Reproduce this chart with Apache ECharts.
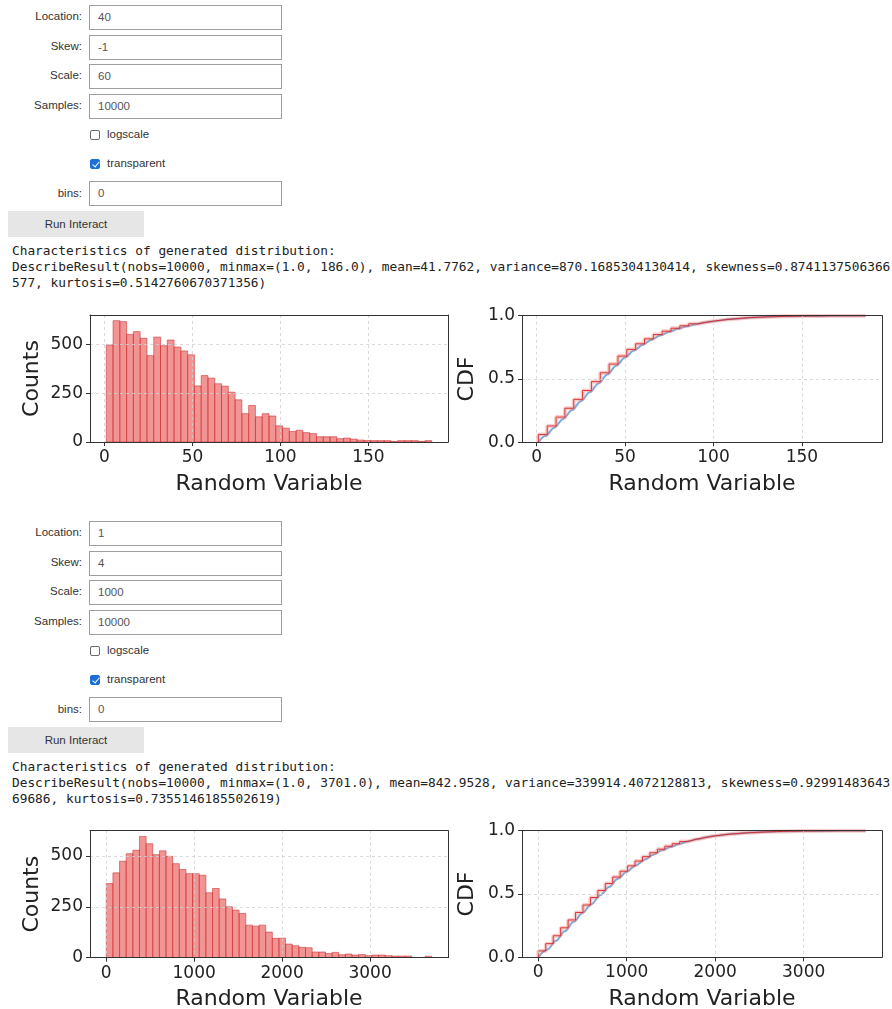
<!DOCTYPE html>
<html>
<head>
<meta charset="utf-8">
<script src="https://cdn.jsdelivr.net/npm/echarts@6/dist/echarts.min.js"></script>
<style>
  html, body { margin:0; padding:0; background:#fff; }
  body { width:892px; height:1009px; position:relative; overflow:hidden; font-family:"Liberation Sans", Arial, sans-serif; }
  .lbl { position:absolute; left:0; width:82px; text-align:right; font-size:11.5px; color:#333; }
  .box { position:absolute; left:89px; width:193px; height:25px; box-sizing:border-box; border:1px solid #9e9e9e; font-size:11.5px; color:#555; line-height:23px; padding-left:8px; background:#fff; }
  .chk { position:absolute; left:90px; width:10px; height:10px; box-sizing:border-box; border:1px solid #6b6b6b; border-radius:2px; background:#fff; }
  .chk.on { background:#1b6fd6; border-color:#1b6fd6; }
  .chk.on::after { content:""; position:absolute; left:2.5px; top:0px; width:3px; height:6px; border:solid #fff; border-width:0 1.5px 1.5px 0; transform:rotate(40deg); }
  .cbl { position:absolute; left:107px; font-size:11.5px; color:#333; }
  .btn { position:absolute; left:8px; width:136px; height:26px; background:#e6e6e6; color:#333; font-size:11.5px; line-height:26px; text-align:center; }
  .out { position:absolute; left:12px; font-family:"DejaVu Sans Mono", monospace; font-size:12.8px; color:#222; line-height:16px; white-space:pre; }
  .chart { position:absolute; left:0; width:892px; }
</style>
</head>
<body>
<div id="form1"></div>
<div id="form2"></div>
<div id="row1" class="chart" style="top:300px;height:210px;"></div>
<div id="row2" class="chart" style="top:818px;height:191px;"></div>
<script>
// ---------------- form texts ----------------
const formLabels = ["Location:", "Skew:", "Scale:", "Samples:"];
const form1Values = ["40", "-1", "60", "10000"];
const form2Values = ["1", "4", "1000", "10000"];
const checkLabels = ["logscale", "transparent"];
const checkStates = [false, true];
const binsLabel = "bins:";
const binsValue = "0";
const buttonText = "Run Interact";
const stats1Lines = [
  "Characteristics of generated distribution:",
  "DescribeResult(nobs=10000, minmax=(1.0, 186.0), mean=41.7762, variance=870.1685304130414, skewness=0.8741137506366",
  "577, kurtosis=0.5142760670371356)"
];
const stats2Lines = [
  "Characteristics of generated distribution:",
  "DescribeResult(nobs=10000, minmax=(1.0, 3701.0), mean=842.9528, variance=339914.4072128813, skewness=0.92991483643",
  "69686, kurtosis=0.7355146185502619)"
];

// ---------------- chart data ----------------
// histogram 1: range [1, 186], 48 equal bins
const hist1Range = [1, 186];
const hist1Counts = [497,621,616,551,565,531,442,537,493,522,486,466,446,287,340,327,298,286,255,216,145,187,129,145,133,83,71,54,60,48,43,27,27,27,17,20,15,10,8,7,7,7,3,7,7,7,3,7];
// histogram 2: range [1, 3701], 49 equal bins
const hist2Range = [1, 3701];
const hist2Counts = [364,417,474,511,528,596,560,506,525,498,462,433,413,413,405,319,340,289,250,234,217,160,155,160,126,95,96,67,59,51,49,28,28,21,26,15,18,13,16,10,13,13,10,8,8,8,0,0,7];

// cumulative step histograms (value at the end of each equal bin)
const cdf1Range = [1, 186];
const cdf1Values = [0.062,0.129,0.199,0.269,0.339,0.409,0.479,0.549,0.618,0.681,0.734,0.778,0.817,0.851,0.878,0.901,0.92,0.936,0.948,0.959,0.967,0.974,0.98,0.985,0.988,0.991,0.993,0.995,0.996,0.997,0.998,0.9985,0.999,0.9993,0.9996,0.9998,1.0];
const cdf2Range = [1, 3701];
const cdf2Values = [0.05,0.108,0.17,0.233,0.295,0.354,0.413,0.472,0.528,0.583,0.634,0.68,0.722,0.76,0.795,0.826,0.854,0.877,0.897,0.914,0.929,0.941,0.952,0.961,0.968,0.974,0.979,0.983,0.986,0.989,0.991,0.993,0.9945,0.996,0.9968,0.9975,0.998,0.9985,0.999,0.9993,0.9995,0.9997,0.9998,1.0];

// theoretical CDF curves
const fit1X = [1,5,10,15,20,25,30,35,40,45,50,55,60,65,70,75,80,85,90,95,100,110,120,130,140,150,160,170,186];
const fit1Y = [0,0.05,0.115,0.185,0.255,0.325,0.395,0.465,0.535,0.605,0.67,0.725,0.77,0.81,0.845,0.873,0.897,0.917,0.933,0.946,0.957,0.973,0.984,0.991,0.995,0.997,0.9985,0.9993,1.0];
const fit2X = [1,100,200,300,400,500,600,700,800,900,1000,1100,1200,1300,1400,1500,1600,1700,1800,1900,2000,2200,2400,2600,2800,3000,3200,3400,3701];
const fit2Y = [0,0.06,0.13,0.205,0.28,0.35,0.42,0.49,0.555,0.62,0.675,0.725,0.77,0.81,0.845,0.873,0.897,0.917,0.934,0.948,0.96,0.975,0.985,0.991,0.995,0.997,0.998,0.999,1.0];

// axis ticks / limits
const x1Ticks = [0, 50, 100, 150];
const x1Limits = [-8.25, 195.25];
const x2Ticks = [0, 1000, 2000, 3000];
const x2Limits = [-184, 3886];
const countTicks = [0, 250, 500];
const count1Max = 650;
const count2Max = 624;
const cdfTicks = [0, 0.5, 1.0];
const xAxisTitle = "Random Variable";
const countTitle = "Counts";
const cdfTitle = "CDF";

// ---------------- build forms ----------------
function el(cls, css, text) {
  const d = document.createElement('div');
  d.className = cls;
  Object.assign(d.style, css);
  if (text !== undefined) d.textContent = text;
  return d;
}
function buildForm(host, top, values, stats) {
  const boxTops = [5, 35, 64, 94];
  formLabels.forEach((lab, i) => {
    const t = top + boxTops[i];
    host.appendChild(el('lbl', {top:(t+5)+'px'}, lab));
    host.appendChild(el('box', {top:t+'px'}, values[i]));
  });
  const chkCenters = [135, 164];
  checkLabels.forEach((lab, i) => {
    const c = top + chkCenters[i];
    host.appendChild(el('chk' + (checkStates[i] ? ' on' : ''), {top:(c-5)+'px'}));
    host.appendChild(el('cbl', {top:(c-7)+'px'}, lab));
  });
  host.appendChild(el('lbl', {top:(top+187)+'px'}, binsLabel));
  host.appendChild(el('box', {top:(top+181)+'px'}, binsValue));
  host.appendChild(el('btn', {top:(top+211)+'px'}, buttonText));
  host.appendChild(el('out', {top:(top+243)+'px'}, stats.join('\n')));
}
buildForm(document.getElementById('form1'), 0, form1Values, stats1Lines);
buildForm(document.getElementById('form2'), 515.5, form2Values, stats2Lines);

// ---------------- charts ----------------
const FONT = 'DejaVu Sans';
const AX = '#333';
function bins(range, counts) {
  const w = (range[1] - range[0]) / counts.length;
  return counts.map((c, i) => [range[0] + i * w, range[0] + (i + 1) * w, c]);
}
function steps(range, vals) {
  const w = (range[1] - range[0]) / vals.length;
  const pts = [[range[0], 0]];
  vals.forEach((v, i) => pts.push([range[0] + (i + 1) * w, v]));
  return pts;
}
function xAxisCfg(gi, lim, ticks) {
  return {
    type:'value', gridIndex:gi, min:lim[0], max:lim[1], z:10,
    axisLine:{show:true, onZero:false, lineStyle:{color:AX, width:1}},
    axisTick:{show:true, length:4, customValues:ticks, lineStyle:{color:AX}},
    axisLabel:{customValues:ticks, fontFamily:FONT, fontSize:17, color:'#222', margin:7, formatter:v => String(v)},
    splitLine:{show:true, lineStyle:{type:[3,3], color:'#d0d0d0', width:0.8}},
    name:xAxisTitle, nameLocation:'middle', nameGap:31,
    nameTextStyle:{fontFamily:FONT, fontSize:22, color:'#222'}
  };
}
function spineX(gi, lim) {
  return {type:'value', gridIndex:gi, position:'top', min:lim[0], max:lim[1], z:10,
    axisLine:{show:true, onZero:false, lineStyle:{color:AX, width:1}},
    axisTick:{show:false}, axisLabel:{show:false}, splitLine:{show:false}};
}
function spineY(gi, max) {
  return {type:'value', gridIndex:gi, position:'right', min:0, max:max, z:10,
    axisLine:{show:true, onZero:false, lineStyle:{color:AX, width:1}},
    axisTick:{show:false}, axisLabel:{show:false}, splitLine:{show:false}};
}
function yAxisCfg(gi, min, max, ticks, name, gap, fmt) {
  return {
    type:'value', gridIndex:gi, min:min, max:max, z:10,
    axisLine:{show:true, onZero:false, lineStyle:{color:AX, width:1}},
    axisTick:{show:true, length:4, customValues:ticks, lineStyle:{color:AX}},
    axisLabel:{customValues:ticks, fontFamily:FONT, fontSize:17, color:'#222', margin:7, formatter:fmt},
    splitLine:{show:true, lineStyle:{type:[3,3], color:'#d0d0d0', width:0.8}},
    name:name, nameLocation:'middle', nameGap:gap, nameRotate:90,
    nameTextStyle:{fontFamily:FONT, fontSize:22, color:'#222'}
  };
}
function histSeries(data) {
  return {
    type:'custom', xAxisIndex:0, yAxisIndex:0, data:data, encode:{x:[0,1], y:2}, clip:true,
    renderItem:function (params, api) {
      const a = api.coord([api.value(0), api.value(2)]);
      const b = api.coord([api.value(1), 0]);
      return {type:'rect', shape:{x:a[0], y:a[1], width:b[0]-a[0], height:b[1]-a[1]},
              style:{fill:'rgba(230,77,77,0.6)', stroke:'rgba(205,40,40,0.6)', lineWidth:0.9}};
    }
  };
}
function makeOption(g0, g1, hist, xLim, xTicks, cMax, stepPts, fitX, fitY) {
  return {
    animation:false,
    grid:[
      Object.assign({show:false, outerBoundsMode:'none'}, g0),
      Object.assign({show:false, outerBoundsMode:'none'}, g1)
    ],
    xAxis:[xAxisCfg(0, xLim, xTicks), xAxisCfg(1, xLim, xTicks), spineX(0, xLim), spineX(1, xLim)],
    yAxis:[
      yAxisCfg(0, 0, cMax, countTicks, countTitle, 47, v => String(v)),
      yAxisCfg(1, 0, 1, cdfTicks, cdfTitle, 44, v => v.toFixed(1)),
      spineY(0, cMax), spineY(1, 1)
    ],
    series:[
      histSeries(hist),
      {type:'line', xAxisIndex:1, yAxisIndex:1, data:fitX.map((x,i)=>[x, fitY[i]]), smooth:0.35, smoothMonotone:'x',
       showSymbol:false, lineStyle:{color:'#77abdd', width:2}, z:2},
      {type:'line', xAxisIndex:1, yAxisIndex:1, data:stepPts, step:'start', showSymbol:false,
       lineStyle:{color:'#f08080', width:4, opacity:0.4}, z:3},
      {type:'line', xAxisIndex:1, yAxisIndex:1, data:stepPts, step:'start', showSymbol:false,
       lineStyle:{color:'#d42020', width:1, opacity:0.85}, z:4}
    ]
  };
}
const c1 = echarts.init(document.getElementById('row1'), null, {renderer:'canvas'});
c1.setOption(makeOption(
  {left:90, top:15, width:358, height:127},
  {left:522, top:15.7, width:360, height:126.6},
  bins(hist1Range, hist1Counts), x1Limits, x1Ticks, count1Max,
  steps(cdf1Range, cdf1Values), fit1X, fit1Y));
const c2 = echarts.init(document.getElementById('row2'), null, {renderer:'canvas'});
c2.setOption(makeOption(
  {left:90, top:12.7, width:358, height:127},
  {left:522, top:12.7, width:360, height:126.6},
  bins(hist2Range, hist2Counts), x2Limits, x2Ticks, count2Max,
  steps(cdf2Range, cdf2Values), fit2X, fit2Y));
</script>
</body>
</html>
